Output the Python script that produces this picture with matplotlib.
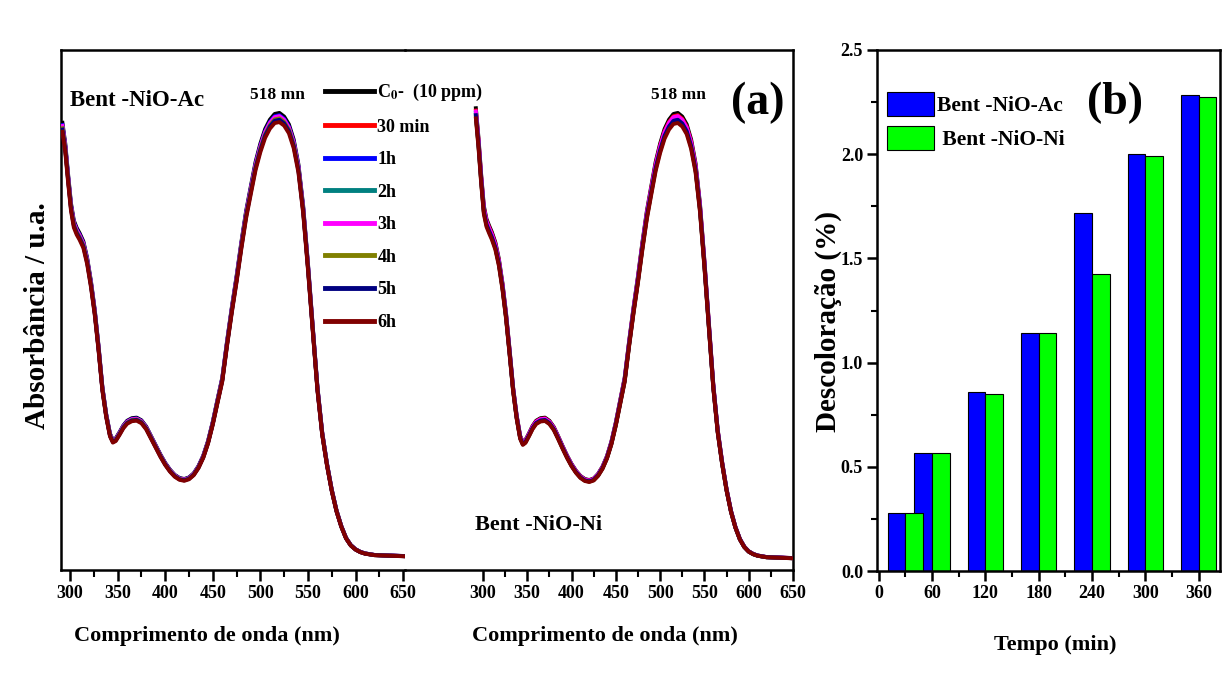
import numpy as np
import matplotlib as mpl
mpl.use('Agg')
import matplotlib.pyplot as plt
from matplotlib.ticker import MultipleLocator, FixedLocator

plt.rcParams['font.family'] = ['Liberation Serif', 'DejaVu Serif']
plt.rcParams['font.weight'] = 'bold'
plt.rcParams['mathtext.fontset'] = 'stix'

# --- panel (a) data: UV-vis spectra (C0 curve) ---
wl = [292, 295, 298, 301, 304, 307, 310, 314, 318, 322, 326, 330, 334, 338, 342, 345,
      348, 352, 356, 360, 365, 370, 375, 380, 385, 390, 395, 400, 405, 410, 415, 420,
      425, 430, 435, 440, 445, 450, 455, 460, 465, 470, 475, 480, 485, 490, 495, 500,
      505, 510, 515, 520, 525, 530, 535, 540, 545, 550, 555, 560, 565, 570, 575, 580,
      585, 590, 595, 600, 605, 610, 620, 635, 650]
abs_ac = [0.860, 0.820, 0.760, 0.705, 0.672, 0.658, 0.648, 0.632, 0.600, 0.555, 0.500, 0.430,
          0.352, 0.300, 0.262, 0.250, 0.253, 0.265, 0.278, 0.287, 0.292, 0.293, 0.288, 0.276,
          0.258, 0.240, 0.222, 0.206, 0.193, 0.183, 0.177, 0.175, 0.178, 0.186, 0.200, 0.220,
          0.248, 0.285, 0.328, 0.370, 0.440, 0.505, 0.565, 0.630, 0.690, 0.738, 0.785, 0.820,
          0.848, 0.866, 0.877, 0.879, 0.872, 0.857, 0.828, 0.780, 0.700, 0.590, 0.470, 0.352,
          0.265, 0.205, 0.155, 0.115, 0.085, 0.062, 0.048, 0.040, 0.035, 0.032, 0.029, 0.028,
          0.027]
abs_ni = [0.888, 0.830, 0.760, 0.700, 0.675, 0.662, 0.650, 0.630, 0.598, 0.552, 0.495, 0.425,
          0.352, 0.298, 0.258, 0.246, 0.250, 0.263, 0.277, 0.287, 0.292, 0.293, 0.287, 0.275,
          0.257, 0.238, 0.220, 0.204, 0.191, 0.181, 0.175, 0.173, 0.176, 0.185, 0.199, 0.219,
          0.247, 0.284, 0.327, 0.370, 0.440, 0.505, 0.565, 0.630, 0.690, 0.738, 0.785, 0.820,
          0.848, 0.866, 0.877, 0.879, 0.872, 0.857, 0.828, 0.782, 0.704, 0.595, 0.476, 0.358,
          0.270, 0.208, 0.156, 0.114, 0.083, 0.060, 0.045, 0.036, 0.031, 0.028, 0.025, 0.024,
          0.023]

times_labels = ['C$_\\mathbf{0}$-  (10 ppm)', '30 min', '1h', '2h', '3h', '4h', '5h', '6h']
colors_a = ['black', '#ff0000', '#0000ff', '#008080', '#ff00ff', '#808000', '#000080', '#800000']
# relative intensity of each curve vs. C0 (read from peak heights)
scale_ac = [1.000, 0.992, 0.995, 0.990, 0.993, 0.988, 0.985, 0.980]
scale_ni = [1.000, 0.995, 0.990, 0.986, 0.993, 0.982, 0.985, 0.978]

# --- panel (b) data ---
tempo = [30, 60, 120, 180, 240, 300, 360]
desc_ac = [0.279, 0.566, 0.858, 1.143, 1.718, 2.000, 2.282]
desc_ni = [0.279, 0.566, 0.850, 1.143, 1.427, 1.990, 2.276]

W, H = 1225, 689
fig = plt.figure(figsize=(W / 100, H / 100), dpi=100)
fig.patch.set_facecolor('white')


def fx(px):
    return px / W


def fy(py):
    return 1 - py / H


lw_spine = 1.8
ax1 = fig.add_axes([fx(61), fy(570), fx(405) - fx(61), fy(50) - fy(570)])
ax2 = fig.add_axes([fx(405), fy(570), fx(793) - fx(405), fy(50) - fy(570)])
axb = fig.add_axes([fx(877), fy(571), fx(1220) - fx(877), fy(50) - fy(571)])
ax2.patch.set_visible(False)

for ax, ab, sc in [(ax1, abs_ac, scale_ac), (ax2, abs_ni, scale_ni)]:
    for i in range(8):
        ax.plot(wl, np.array(ab) * sc[i], color=colors_a[i], lw=2.8,
                label=times_labels[i], zorder=2 + i)
    ax.set_ylim(0, 1)
    ax.set_yticks([])
    ax.xaxis.set_major_locator(FixedLocator([300, 350, 400, 450, 500, 550, 600, 650]))
    ax.xaxis.set_minor_locator(FixedLocator([325, 375, 425, 475, 525, 575, 625]))
    ax.tick_params(axis='x', which='major', direction='out', length=8, width=1.8,
                   labelsize=13, pad=3)
    ax.tick_params(axis='x', which='minor', direction='out', length=5, width=1.5)
    for s in ax.spines.values():
        s.set_linewidth(lw_spine)

ax1.set_xlim(290.5, 652)
ax2.set_xlim(212, 650)
ax1.spines['right'].set_visible(False)
ax2.spines['left'].set_visible(False)

leg = ax1.legend(loc='upper left', bbox_to_anchor=(fx(325), fy(82)),
                 bbox_transform=fig.transFigure, frameon=False, fontsize=13,
                 handlelength=2.7, handletextpad=0.2, labelspacing=0.86,
                 borderpad=0, borderaxespad=0)
leg.set_zorder(20)
for line in leg.get_lines():
    line.set_linewidth(3.5)

fig.text(fx(70), fy(100), 'Bent -NiO-Ac', fontsize=16.5, ha='left', va='center')
fig.text(fx(277), fy(95), '518 mn', fontsize=12.5, ha='center', va='center')
fig.text(fx(678), fy(95), '518 mn', fontsize=12.5, ha='center', va='center')
fig.text(fx(758), fy(103), '(a)', fontsize=33, ha='center', va='center')
fig.text(fx(539), fy(525), 'Bent -NiO-Ni', fontsize=16, ha='center', va='center')
fig.text(fx(207), fy(636), 'Comprimento de onda (nm)', fontsize=16, ha='center', va='center')
fig.text(fx(605), fy(636), 'Comprimento de onda (nm)', fontsize=16, ha='center', va='center')
fig.text(fx(38), fy(316), 'Absorbância / u.a.', fontsize=21, rotation=90,
         ha='center', va='center')

# --- panel (b) bars ---
bw = 20
axb.bar(np.array(tempo) - bw / 2, desc_ac, width=bw, color='#0000ff',
        edgecolor='black', linewidth=0.8, label='Bent -NiO-Ac')
axb.bar(np.array(tempo) + bw / 2, desc_ni, width=bw, color='#00ff00',
        edgecolor='black', linewidth=0.8, label=' Bent -NiO-Ni')
axb.set_xlim(-2, 384)
axb.set_ylim(0, 2.5)
axb.xaxis.set_major_locator(FixedLocator([0, 60, 120, 180, 240, 300, 360]))
axb.xaxis.set_minor_locator(FixedLocator([30, 90, 150, 210, 270, 330]))
axb.yaxis.set_major_locator(MultipleLocator(0.5))
axb.yaxis.set_minor_locator(MultipleLocator(0.25))
axb.yaxis.set_major_formatter(mpl.ticker.FormatStrFormatter('%.1f'))
axb.tick_params(which='major', direction='out', length=7, width=1.8, labelsize=13, pad=3)
axb.tick_params(which='minor', direction='out', length=4, width=1.5)
for s in axb.spines.values():
    s.set_linewidth(lw_spine)

axb.legend(loc='upper left', bbox_to_anchor=(fx(887), fy(92)),
           bbox_transform=fig.transFigure, frameon=False, fontsize=15.5,
           handlelength=2.2, handleheight=1.35, handletextpad=0.1,
           labelspacing=0.45, borderpad=0, borderaxespad=0)

fig.text(fx(1115), fy(103), '(b)', fontsize=33, ha='center', va='center')
fig.text(fx(1055), fy(645), 'Tempo (min)', fontsize=16, ha='center', va='center')
fig.text(fx(828), fy(322), 'Descoloração (%)', fontsize=21, rotation=90,
         ha='center', va='center')

plt.savefig('out.png', dpi=100)
